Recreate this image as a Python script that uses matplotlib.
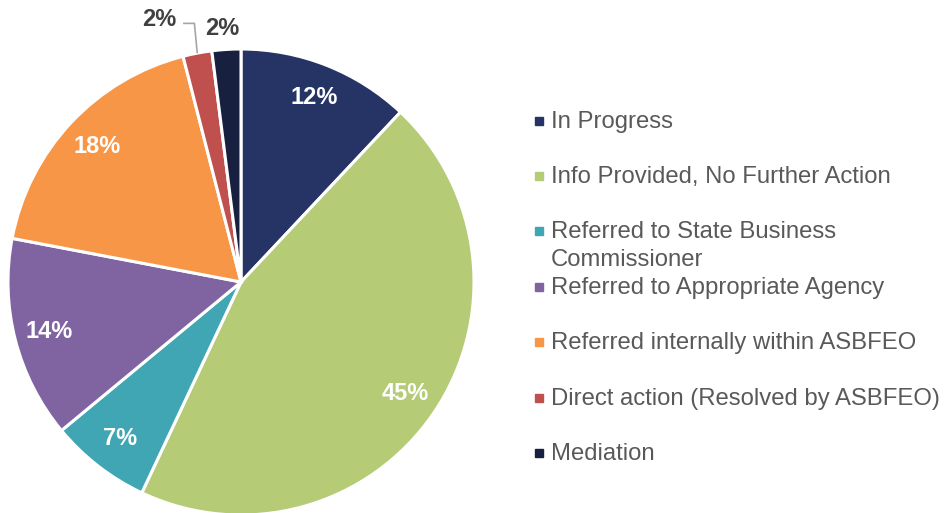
import matplotlib
matplotlib.use("Agg")
import matplotlib.pyplot as plt
from matplotlib.patches import Rectangle

categories = ["In Progress", "Info Provided, No Further Action",
              "Referred to State Business\nCommissioner", "Referred to Appropriate Agency",
              "Referred internally within ASBFEO", "Direct action (Resolved by ASBFEO)",
              "Mediation"]
values = [12, 45, 7, 14, 18, 2, 2]
colors = ["#263365", "#B5CB76", "#40A6B4", "#8064A2", "#F79646", "#C0504D", "#17203F"]

plt.rcParams['font.family'] = ['Liberation Sans', 'DejaVu Sans']

W, H = 944, 513
fig = plt.figure(figsize=(W / 100, H / 100), dpi=100)

cx, cy, r = 241, 282, 233
ax = fig.add_axes([(cx - r) / W, (H - cy - r) / H, 2 * r / W, 2 * r / H])
wedges, texts, autotexts = ax.pie(
    values, colors=colors, startangle=90, counterclock=False, radius=1,
    autopct=lambda p: f"{p:.0f}%", pctdistance=0.85,
    wedgeprops=dict(edgecolor="white", linewidth=2.2),
    textprops=dict(color="white", fontsize=17, fontweight="bold"))
ax.set_xlim(-1, 1)
ax.set_ylim(-1, 1)
ax.set_aspect("equal")
ax.axis("off")

# outside labels for small slices
autotexts[5].set_position((-0.35, 1.125))
autotexts[5].set_color("#404040")
autotexts[6].set_position((-0.08, 1.09))
autotexts[6].set_color("#404040")
ax.plot([-0.245, -0.2, -0.188], [1.11, 1.11, 0.985], color="#A6A6A6", lw=1.2,
        clip_on=False)

# legend in pixel coordinates
ov = fig.add_axes([0, 0, 1, 1])
ov.set_xlim(0, W)
ov.set_ylim(H, 0)
ov.axis("off")
ys = [121, 176, 231, 287, 342, 398, 453]
for lab, col, y in zip(categories, colors, ys):
    ov.add_patch(Rectangle((535, y - 4), 7.5, 7.5, color=col))
    lines = lab.split("\n")
    for k, ln in enumerate(lines):
        ov.text(551, y + 7 + 28 * k, ln, fontsize=17.2, color="#595959",
                va="baseline", ha="left")

fig.savefig("out.png", dpi=100)
